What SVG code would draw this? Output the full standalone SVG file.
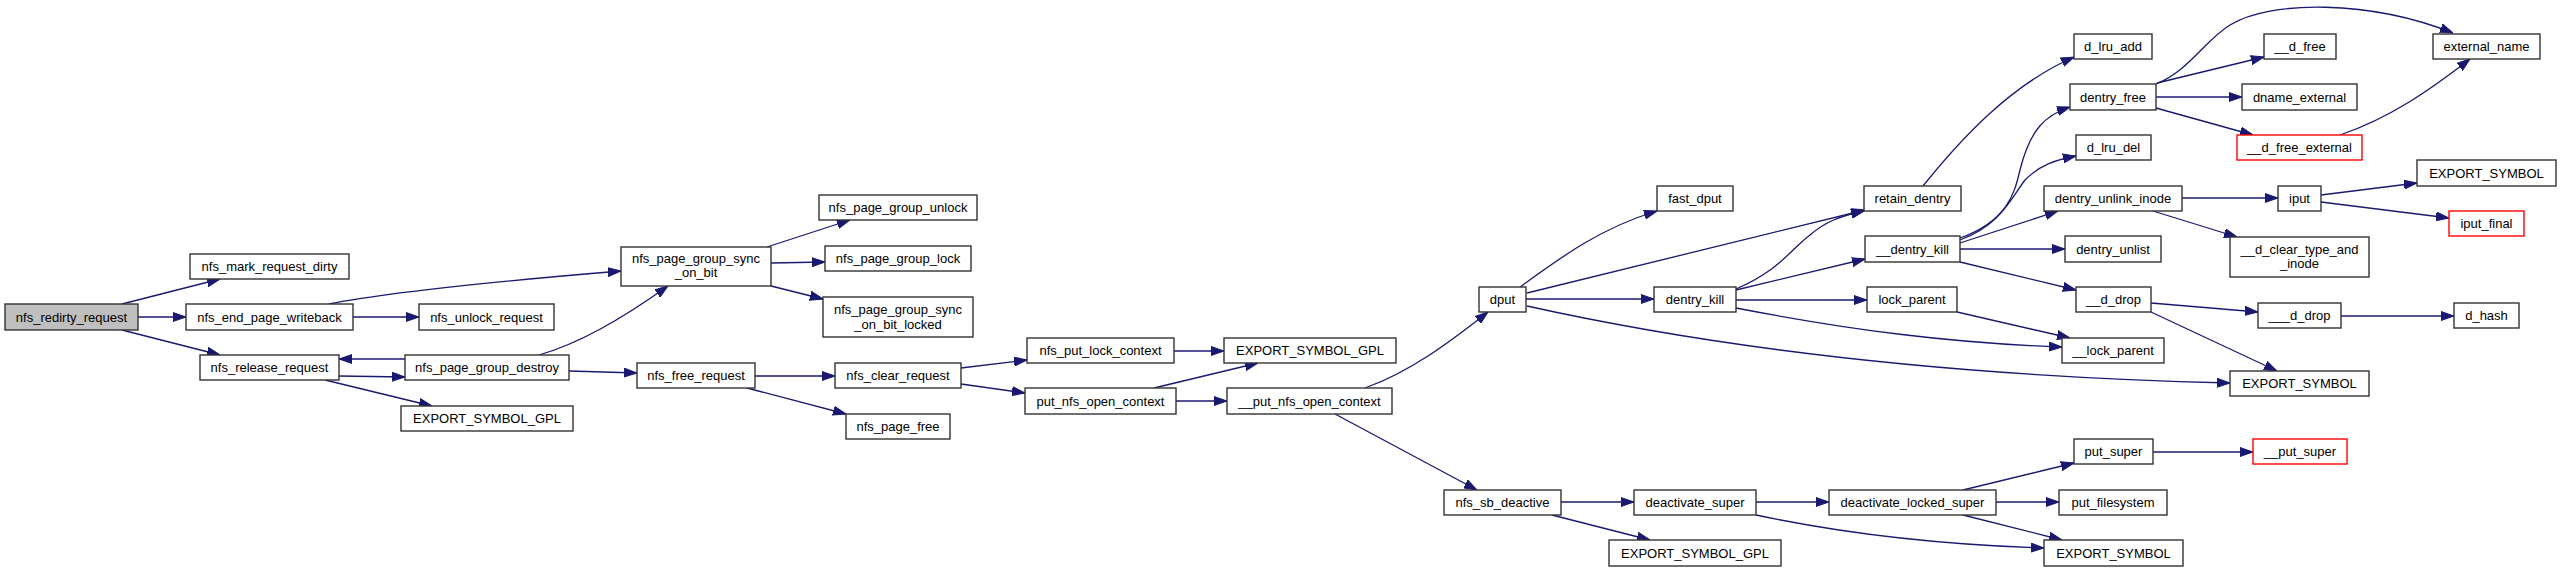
<svg xmlns="http://www.w3.org/2000/svg" width="2561" height="572" viewBox="0 0 2561 572">
<style>
rect{fill:#fff;stroke:#333;stroke-width:1.4}
rect.root{fill:#bfbfbf}
rect.red{stroke:#ff0000}
text{font-family:"Liberation Sans",Arial,sans-serif;font-size:13px;fill:#000;text-anchor:middle}
#edges path{fill:none;stroke:#191970;stroke-width:1.3;marker-end:url(#ah)}
</style>
<defs>
<marker id="ah" markerUnits="userSpaceOnUse" markerWidth="13" markerHeight="10" refX="13" refY="5" orient="auto">
<path d="M0,0.5 L13,5 L0,9.5 z" fill="#191970" stroke="#191970" stroke-width="1"/>
</marker>
</defs>
<rect x="0" y="0" width="2561" height="572" style="fill:#fff;stroke:none"/>
<g id="edges">
<path d="M122,304 L220,279"/>
<path d="M138,317 L186,317"/>
<path d="M122,330 L220,355"/>
<path d="M329,304 C390,292 500,281 621,271"/>
<path d="M353,317 L419,317"/>
<path d="M339,376 L405,377"/>
<path d="M405,359 L339,359"/>
<path d="M325,380 L432,406"/>
<path d="M539,355 C580,343 620,320 668,286"/>
<path d="M569,371 L637,373"/>
<path d="M767,247 L850,220"/>
<path d="M771,263 L825,262"/>
<path d="M771,286 L823,299"/>
<path d="M755,376 L835,376"/>
<path d="M747,388 L846,414"/>
<path d="M961,368 L1027,360"/>
<path d="M961,384 L1025,393"/>
<path d="M1174,351 L1224,351"/>
<path d="M1154,388 L1258,363"/>
<path d="M1176,401 L1227,401"/>
<path d="M1365,388 C1410,372 1450,342 1488,312"/>
<path d="M1335,414 L1477,490"/>
<path d="M1520,287 C1560,258 1600,228 1657,211"/>
<path d="M1527,293 L1865,210"/>
<path d="M1526,299 L1654,299"/>
<path d="M1527,306 C1680,340 1900,375 2230,383"/>
<path d="M1736,289 C1780,270 1790,250 1810,235 C1825,222 1840,216 1864,211"/>
<path d="M1736,290 L1865,259"/>
<path d="M1736,300 L1867,300"/>
<path d="M1736,308 C1850,330 1950,343 2062,347"/>
<path d="M1923,186 C1960,140 2010,85 2074,57"/>
<path d="M1960,238 C2010,220 2015,190 2020,170 C2030,130 2045,115 2070,107"/>
<path d="M1960,240 C2000,225 2010,200 2025,180 C2040,165 2055,160 2076,156"/>
<path d="M1960,243 L2058,211"/>
<path d="M1960,249 L2065,249"/>
<path d="M1960,262 L2076,290"/>
<path d="M1957,312 L2070,338"/>
<path d="M2156,84 C2190,70 2205,40 2230,25 C2270,0 2370,0 2453,33"/>
<path d="M2157,83 L2264,57"/>
<path d="M2156,97 L2242,97"/>
<path d="M2156,108 L2253,135"/>
<path d="M2340,135 C2390,118 2430,90 2470,59"/>
<path d="M2182,198 L2278,198"/>
<path d="M2153,211 L2237,237"/>
<path d="M2321,195 L2417,183"/>
<path d="M2321,202 L2449,218"/>
<path d="M2151,303 L2258,312"/>
<path d="M2151,312 L2277,371"/>
<path d="M2341,316 L2454,316"/>
<path d="M1561,502 L1634,502"/>
<path d="M1552,515 L1650,540"/>
<path d="M1756,502 L1829,502"/>
<path d="M1756,515 C1850,535 1950,545 2044,548"/>
<path d="M1963,490 L2074,463"/>
<path d="M1996,502 L2059,502"/>
<path d="M1963,515 L2062,540"/>
<path d="M2153,452 L2253,452"/>
</g>
<g id="n_nfs_redirty_request"><rect class="root" x="5" y="304" width="133" height="26"/><text x="71.5" y="321.5">nfs_redirty_request</text></g>
<g id="n_nfs_mark_request_dirty"><rect x="190" y="254" width="159" height="25"/><text x="269.5" y="271">nfs_mark_request_dirty</text></g>
<g id="n_nfs_end_page_writeback"><rect x="186" y="304" width="167" height="26"/><text x="269.5" y="321.5">nfs_end_page_writeback</text></g>
<g id="n_nfs_release_request"><rect x="200" y="355" width="139" height="25"/><text x="269.5" y="372">nfs_release_request</text></g>
<g id="n_nfs_page_group_destroy"><rect x="405" y="355" width="164" height="25"/><text x="487" y="372">nfs_page_group_destroy</text></g>
<g id="n_nfs_unlock_request"><rect x="419" y="304" width="135" height="26"/><text x="486.5" y="321.5">nfs_unlock_request</text></g>
<g id="n_export_symbol_gpl_1"><rect x="401" y="406" width="172" height="25"/><text x="487" y="423">EXPORT_SYMBOL_GPL</text></g>
<g id="n_nfs_page_group_sync_on_bit"><rect x="621" y="247" width="150" height="39"/><text x="696" y="262.5">nfs_page_group_sync</text><text x="696" y="276.5">_on_bit</text></g>
<g id="n_nfs_free_request"><rect x="637" y="363" width="118" height="25"/><text x="696" y="380">nfs_free_request</text></g>
<g id="n_nfs_page_group_unlock"><rect x="819" y="195" width="158" height="25"/><text x="898" y="212">nfs_page_group_unlock</text></g>
<g id="n_nfs_page_group_lock"><rect x="825" y="246" width="146" height="25"/><text x="898" y="263">nfs_page_group_lock</text></g>
<g id="n_nfs_page_group_sync_on_bit_locked"><rect x="823" y="297" width="150" height="40"/><text x="898" y="313.5">nfs_page_group_sync</text><text x="898" y="328.5">_on_bit_locked</text></g>
<g id="n_nfs_clear_request"><rect x="835" y="363" width="126" height="25"/><text x="898" y="380">nfs_clear_request</text></g>
<g id="n_nfs_page_free"><rect x="846" y="414" width="104" height="25"/><text x="898" y="431">nfs_page_free</text></g>
<g id="n_nfs_put_lock_context"><rect x="1027" y="338" width="147" height="25"/><text x="1100.5" y="355">nfs_put_lock_context</text></g>
<g id="n_put_nfs_open_context"><rect x="1025" y="388" width="151" height="26"/><text x="1100.5" y="405.5">put_nfs_open_context</text></g>
<g id="n_export_symbol_gpl_2"><rect x="1224" y="338" width="172" height="25"/><text x="1310" y="355">EXPORT_SYMBOL_GPL</text></g>
<g id="n___put_nfs_open_context"><rect x="1227" y="388" width="165" height="26"/><text x="1309.5" y="405.5">__put_nfs_open_context</text></g>
<g id="n_dput"><rect x="1479" y="287" width="47" height="25"/><text x="1502.5" y="304">dput</text></g>
<g id="n_nfs_sb_deactive"><rect x="1444" y="490" width="117" height="25"/><text x="1502.5" y="507">nfs_sb_deactive</text></g>
<g id="n_fast_dput"><rect x="1657" y="186" width="76" height="25"/><text x="1695" y="203">fast_dput</text></g>
<g id="n_dentry_kill"><rect x="1654" y="287" width="82" height="25"/><text x="1695" y="304">dentry_kill</text></g>
<g id="n_deactivate_super"><rect x="1634" y="490" width="122" height="25"/><text x="1695" y="507">deactivate_super</text></g>
<g id="n_export_symbol_gpl_3"><rect x="1609" y="540" width="172" height="26"/><text x="1695" y="557.5">EXPORT_SYMBOL_GPL</text></g>
<g id="n_retain_dentry"><rect x="1864" y="186" width="97" height="25"/><text x="1912.5" y="203">retain_dentry</text></g>
<g id="n___dentry_kill"><rect x="1865" y="236" width="95" height="26"/><text x="1912.5" y="253.5">__dentry_kill</text></g>
<g id="n_lock_parent"><rect x="1867" y="287" width="90" height="25"/><text x="1912" y="304">lock_parent</text></g>
<g id="n_deactivate_locked_super"><rect x="1829" y="490" width="167" height="25"/><text x="1912.5" y="507">deactivate_locked_super</text></g>
<g id="n_d_lru_add"><rect x="2074" y="34" width="78" height="25"/><text x="2113" y="51">d_lru_add</text></g>
<g id="n_dentry_free"><rect x="2070" y="84" width="86" height="26"/><text x="2113" y="101.5">dentry_free</text></g>
<g id="n_d_lru_del"><rect x="2076" y="135" width="75" height="25"/><text x="2113.5" y="152">d_lru_del</text></g>
<g id="n_dentry_unlink_inode"><rect x="2044" y="186" width="138" height="25"/><text x="2113" y="203">dentry_unlink_inode</text></g>
<g id="n_dentry_unlist"><rect x="2065" y="236" width="96" height="26"/><text x="2113" y="253.5">dentry_unlist</text></g>
<g id="n___d_drop"><rect x="2076" y="287" width="75" height="25"/><text x="2113.5" y="304">__d_drop</text></g>
<g id="n___lock_parent"><rect x="2062" y="338" width="102" height="25"/><text x="2113" y="355">__lock_parent</text></g>
<g id="n_put_super"><rect x="2074" y="439" width="79" height="25"/><text x="2113.5" y="456">put_super</text></g>
<g id="n_put_filesystem"><rect x="2059" y="490" width="108" height="25"/><text x="2113" y="507">put_filesystem</text></g>
<g id="n_export_symbol_bottom"><rect x="2044" y="540" width="139" height="26"/><text x="2113.5" y="557.5">EXPORT_SYMBOL</text></g>
<g id="n___d_free"><rect x="2264" y="34" width="72" height="25"/><text x="2300" y="51">__d_free</text></g>
<g id="n_dname_external"><rect x="2242" y="84" width="115" height="26"/><text x="2299.5" y="101.5">dname_external</text></g>
<g id="n___d_free_external"><rect class="red" x="2237" y="135" width="125" height="25"/><text x="2299.5" y="152">__d_free_external</text></g>
<g id="n_external_name"><rect x="2433" y="34" width="107" height="25"/><text x="2486.5" y="51">external_name</text></g>
<g id="n_iput"><rect x="2278" y="186" width="43" height="25"/><text x="2299.5" y="203">iput</text></g>
<g id="n___d_clear_type_and_inode"><rect x="2230" y="237" width="139" height="40"/><text x="2299.5" y="253.5">__d_clear_type_and</text><text x="2299.5" y="267.5">_inode</text></g>
<g id="n_export_symbol_top"><rect x="2417" y="160" width="139" height="26"/><text x="2486.5" y="177.5">EXPORT_SYMBOL</text></g>
<g id="n_iput_final"><rect class="red" x="2449" y="211" width="75" height="25"/><text x="2486.5" y="228">iput_final</text></g>
<g id="n____d_drop"><rect x="2258" y="303" width="83" height="25"/><text x="2299.5" y="320">___d_drop</text></g>
<g id="n_d_hash"><rect x="2454" y="303" width="65" height="25"/><text x="2486.5" y="320">d_hash</text></g>
<g id="n_export_symbol_mid"><rect x="2230" y="371" width="139" height="25"/><text x="2299.5" y="388">EXPORT_SYMBOL</text></g>
<g id="n___put_super"><rect class="red" x="2253" y="439" width="94" height="25"/><text x="2300" y="456">__put_super</text></g>
</svg>
